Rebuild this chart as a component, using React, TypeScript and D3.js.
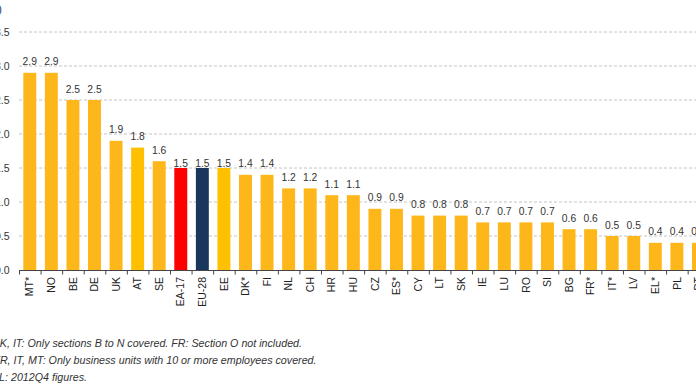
import React from 'react';
import * as d3 from 'd3';

// Categories and values
const countries = [
  'MT*', 'NO', 'BE', 'DE', 'UK', 'AT', 'SE', 'EA-17', 'EU-28', 'EE', 'DK*', 'FI',
  'NL', 'CH', 'HR', 'HU', 'CZ', 'ES*', 'CY', 'LT', 'SK', 'IE', 'LU', 'RO', 'SI',
  'BG', 'FR*', 'IT*', 'LV', 'EL*', 'PL', 'PT',
];
const values = [
  2.9, 2.9, 2.5, 2.5, 1.9, 1.8, 1.6, 1.5, 1.5, 1.5, 1.4, 1.4,
  1.2, 1.2, 1.1, 1.1, 0.9, 0.9, 0.8, 0.8, 0.8, 0.7, 0.7, 0.7, 0.7,
  0.6, 0.6, 0.5, 0.5, 0.4, 0.4, 0.4,
];
const yTicks = [0, 0.5, 1.0, 1.5, 2.0, 2.5, 3.0, 3.5];
const redBars = ['EA-17'];
const navyBars = ['EU-28'];
const brightBars = ['AT', 'EE'];
const tightLabels = ['EA-17', 'EU-28', 'EE'];
const notes = [
  'ES, DK, IT: Only sections B to N covered. FR: Section O not included.',
  'FR, IT, MT: Only business units with 10 or more employees covered.',
  'EL: 2012Q4 figures.',
];

const width = 696;
const height = 385;
const font = "Arial, 'Liberation Sans', sans-serif";

const App = () => {
  // plot area is wider than the window: the picture is a crop
  const x = d3.scaleBand<string>()
    .domain(countries)
    .range([19, 19 + countries.length * 21.57])
    .padding(0);

  const y = d3.scaleLinear().domain([0, 3.5]).range([270, 32]);

  const barW = x.bandwidth() * 0.6;

  const colour = (c: string) => {
    if (redBars.includes(c)) return '#ff0000';
    if (navyBars.includes(c)) return '#1b365d';
    if (brightBars.includes(c)) return '#ffc000';
    return '#fdb71a';
  };

  return (
    <svg width={width} height={height} style={{ position: 'absolute', left: 0, top: 0 }}
      fontFamily={font}>
      <rect width={width} height={height} fill="#fff" />

      {/* cut-off unit label */}
      <text x={2} y={13} textAnchor="end" fontSize={11} fill="#1f3864">(%)</text>

      {/* gridlines */}
      {yTicks.filter(t => t > 0).map(t => (
        <line key={t} x1={19} x2={width + 20} y1={y(t)} y2={y(t)}
          stroke="#c4c4c4" strokeWidth={1} strokeDasharray="3,2" />
      ))}

      {/* y labels */}
      {yTicks.map(t => (
        <text key={t} x={9.5} y={y(t)} dy="0.35em" textAnchor="end" fontSize={10.5} fill="#333">
          {t.toFixed(1)}
        </text>
      ))}

      {/* bars */}
      {countries.map((c, i) => {
        const cx = (x(c) as number) + x.bandwidth() / 2;
        const top = y(values[i]);
        const off = tightLabels.includes(c) ? 1 : 7.5;
        return (
          <g key={c}>
            <rect x={cx - barW / 2} y={top} width={barW} height={y(0) - top} fill={colour(c)} />
            <text x={cx} y={top - off} textAnchor="middle" fontSize={10.3} fill="#333">
              {values[i].toFixed(1)}
            </text>
          </g>
        );
      })}

      {/* x axis */}
      <line x1={19} x2={width + 20} y1={y(0) + 0.5} y2={y(0) + 0.5} stroke="#444" />
      {countries.map(c => (
        <line key={c} x1={(x(c) as number) + 0.5} x2={(x(c) as number) + 0.5}
          y1={y(0)} y2={y(0) + 4.5} stroke="#444" />
      ))}
      {countries.map(c => {
        const cx = (x(c) as number) + x.bandwidth() / 2;
        return (
          <text key={c} transform={`translate(${cx},277) rotate(-90)`} dy="0.35em"
            textAnchor="end" fontSize={10.5} fill="#222">
            {c}
          </text>
        );
      })}

      {/* footnotes */}
      {notes.map((n, i) => (
        <text key={n} x={[302, 316.5, 87][i]} y={346.5 + i * 17} textAnchor="end"
          fontSize={10.7} fontStyle="italic" fill="#333">
          {n}
        </text>
      ))}
    </svg>
  );
};

export default App;
